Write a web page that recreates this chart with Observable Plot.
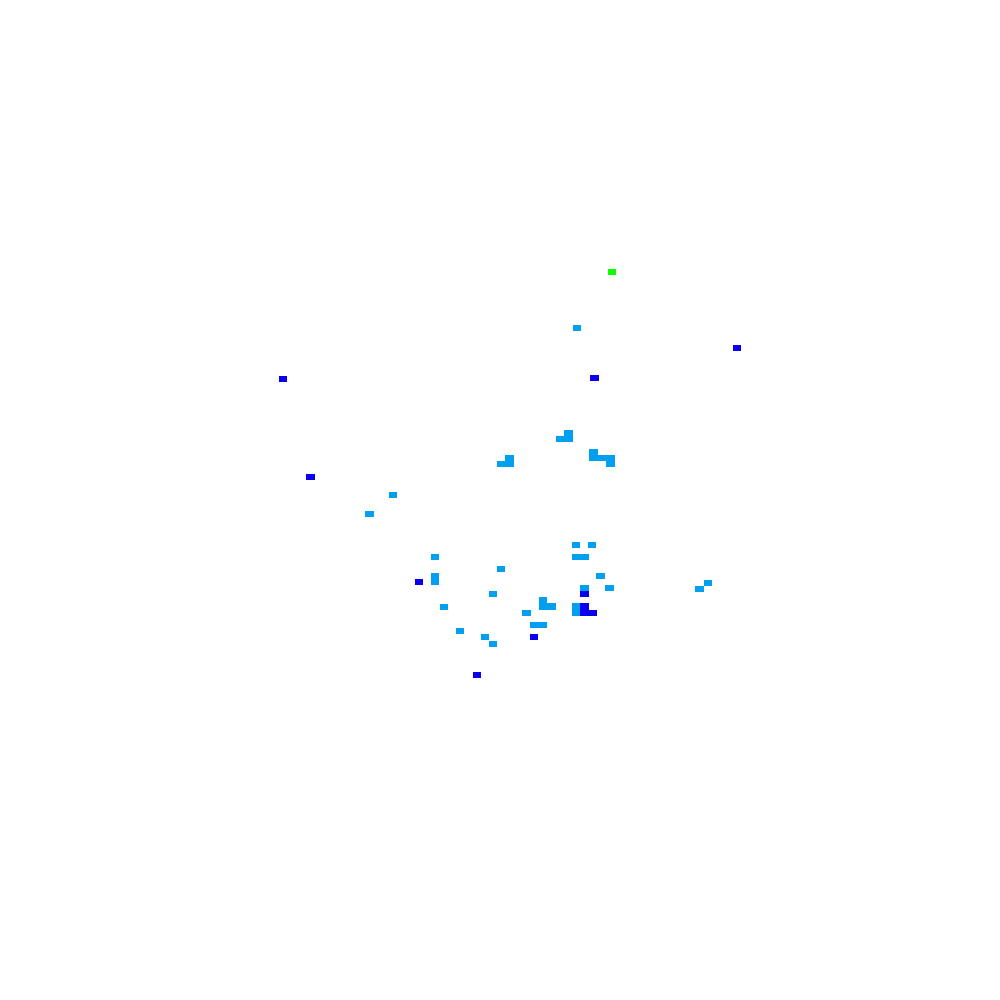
<!DOCTYPE html>
<html>
<head>
<meta charset="utf-8">
<script src="https://cdn.jsdelivr.net/npm/d3@7"></script>
<script src="https://cdn.jsdelivr.net/npm/@observablehq/plot@0.6"></script>
<style>
  html, body { margin: 0; padding: 0; background: #ffffff; }
  #chart svg { display: block; }
</style>
</head>
<body>
<div id="chart"></div>
<script>
// Grid-cell positions (column / row units) and level of each cell
const cellX = [
  13.2, 9.0, 28.1, 11.1, -26.0, -22.7, -12.9, -15.7,
  0, 1, 1,
  7, 8, 8,
  11, 11, 12, 13, 13,
  -7.9, -7.9, -7.9, -9.8, 0, -1, -6.8, 3, -4.9, -1.9, -1,
  8.9, 10.8, 8.9, 9.9, 11.8, 9.9, 9.9, 12.9,
  5, 5, 6, 8.9, 8.9, 9.9, 9.9, 10.9,
  3.9, 4.9, 3.9,
  23.6, 24.6, -2.9
];
const cellY = [
  -26.1, -17.0, -13.8, -8.9, -8.8, 7.1, 10.0, 13.1,
  5, 5, 4,
  1, 1, 0,
  3, 4, 4, 4, 5,
  20.1, 23.2, 24.2, 24.1, 22.0, 26.1, 28.2, 29.2, 32.1, 33.1, 34.2,
  18.1, 18.1, 20.1, 20.1, 23.2, 25.1, 26.1, 25.1,
  27.1, 28.1, 28.1, 28.1, 29.1, 28.1, 29.1, 29.1,
  31.1, 31.1, 33.1,
  25.3, 24.3, 39.2
];
const cellLevel = [
  "high", "mid", "low", "low", "low", "low", "mid", "mid",
  "mid", "mid", "mid",
  "mid", "mid", "mid",
  "mid", "mid", "mid", "mid", "mid",
  "mid", "mid", "mid", "low", "mid", "mid", "mid", "mid", "mid", "mid", "mid",
  "mid", "mid", "mid", "mid", "mid", "mid", "low", "mid",
  "mid", "mid", "mid", "mid", "mid", "low", "low", "low",
  "mid", "mid", "low",
  "mid", "mid", "low"
];
const levels = ["low", "mid", "high"];
const levelColors = ["#0a00ee", "#009ff0", "#10ff00"];

const cells = cellX.map((x, i) => ({x, y: cellY[i], level: cellLevel[i]}));

const chart = Plot.plot({
  width: 1000,
  height: 1000,
  margin: 0,
  x: {domain: [-59.17, 59.88], axis: null},
  y: {domain: [-69.69, 92.38], reverse: true, axis: null},
  color: {type: "ordinal", domain: levels, range: levelColors},
  marks: [
    Plot.rect(cells, {
      x1: d => d.x,
      x2: d => d.x + 1,
      y1: d => d.y,
      y2: d => d.y + 1,
      fill: "level",
      shapeRendering: "crispEdges"
    })
  ]
});
document.getElementById("chart").appendChild(chart);
</script>
</body>
</html>
